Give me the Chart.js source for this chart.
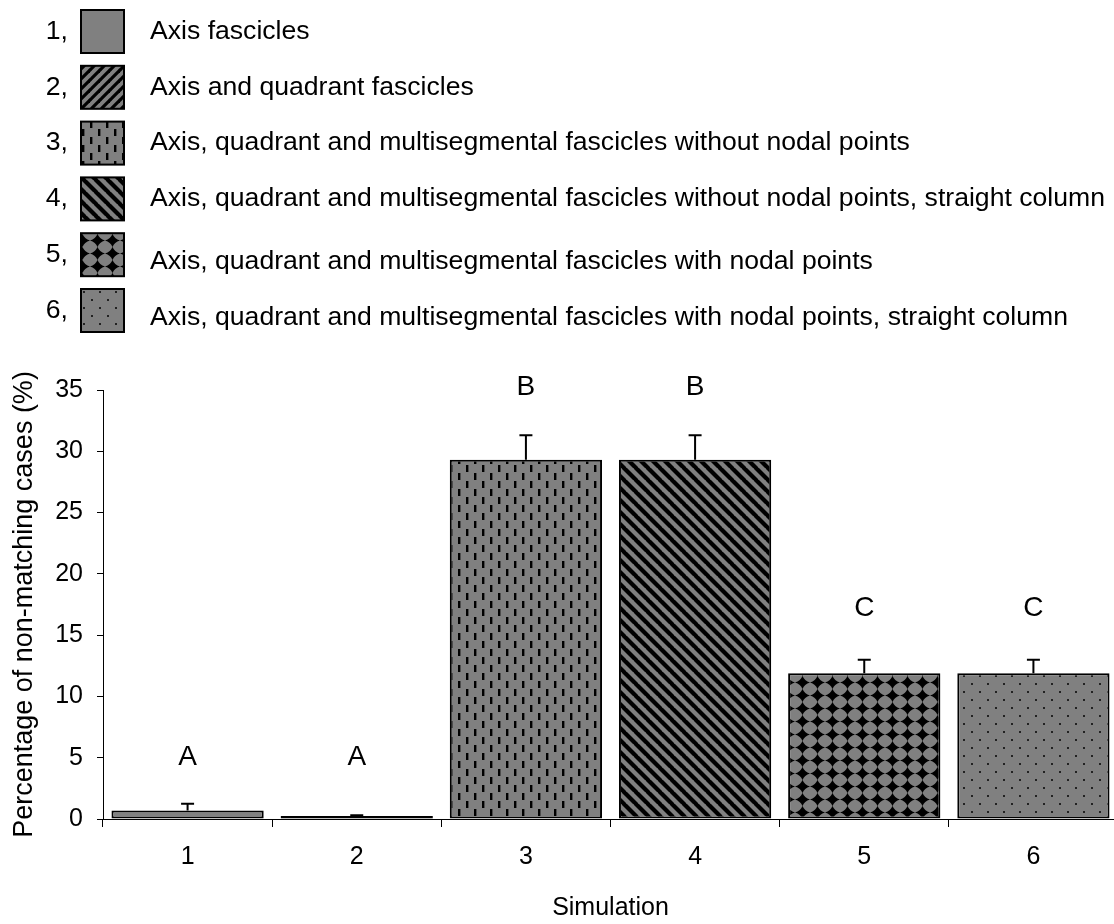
<!DOCTYPE html>
<html><head><meta charset="utf-8">
<script src="https://cdn.jsdelivr.net/npm/chart.js@4/dist/chart.umd.min.js"></script>
<style>html,body{margin:0;padding:0;overflow:hidden;background:#fff}
#wrap{width:1118px;height:924px}</style></head>
<body><div id="wrap"><canvas id="c" width="1118" height="924" style="width:1118px;height:924px"></canvas></div>
<script>
// ---- data ----
const categories = ['1', '2', '3', '4', '5', '6'];
const values = [0.7, 0.25, 29.3, 29.3, 11.9, 11.9];
const errors = [0.55, 0.05, 2.0, 2.0, 1.1, 1.1];
const groupLetters = ['A', 'A', 'B', 'B', 'C', 'C'];
const letterLevels = [5, 5, 35.2, 35.2, 17.2, 17.2];
const yTicks = [0, 5, 10, 15, 20, 25, 30, 35];
const legendNumbers = ['1,', '2,', '3,', '4,', '5,', '6,'];
const legendLabels = [
  'Axis fascicles',
  'Axis and quadrant fascicles',
  'Axis, quadrant and multisegmental fascicles without nodal points',
  'Axis, quadrant and multisegmental fascicles without nodal points, straight column',
  'Axis, quadrant and multisegmental fascicles with nodal points',
  'Axis, quadrant and multisegmental fascicles with nodal points, straight column'
];
const patternKinds = ['solid', 'fwd', 'dash', 'back', 'diamond', 'dots'];

// ---- patterns ----
const GRAY = '#808080';
function makePattern(kind) {
  if (kind === 'solid') return GRAY;
  const t = document.createElement('canvas');
  let w = 16, h = 16;
  if (kind === 'fwd') { w = h = 10; }
  if (kind === 'back') { w = h = 12; }
  if (kind === 'diamond') { w = 15; h = 13; }
  t.width = w; t.height = h;
  const g = t.getContext('2d');
  g.fillStyle = GRAY; g.fillRect(0, 0, w, h);
  g.fillStyle = '#000'; g.strokeStyle = '#000';
  if (kind === 'fwd') {
    g.lineWidth = 3.2;
    for (const k of [0, w, 2 * w]) { g.beginPath(); g.moveTo(k + 1, -1); g.lineTo(k - w - 1, w + 1); g.stroke(); }
  } else if (kind === 'back') {
    g.lineWidth = 4.2;
    for (const k of [-w, 0, w]) { g.beginPath(); g.moveTo(k - 1, -1); g.lineTo(k + w + 1, w + 1); g.stroke(); }
  } else if (kind === 'dash') {
    g.fillRect(2, 1, 2.4, 7);
    g.fillRect(10, 9, 2.4, 7);
  } else if (kind === 'diamond') {
    const cx = w / 2, cy = h / 2, rx = 7.6, ry = 6.6, k = 1.8;
    g.beginPath();
    g.moveTo(cx, cy - ry);
    g.quadraticCurveTo(cx + k, cy - k, cx + rx, cy);
    g.quadraticCurveTo(cx + k, cy + k, cx, cy + ry);
    g.quadraticCurveTo(cx - k, cy + k, cx - rx, cy);
    g.quadraticCurveTo(cx - k, cy - k, cx, cy - ry);
    g.fill();
  } else if (kind === 'dots') {
    g.fillStyle = '#222';
    g.fillRect(3, 3, 2, 2);
    g.fillRect(11, 11, 2, 2);
  }
  return g.createPattern(t, 'repeat');
}
const ctx = document.getElementById('c').getContext('2d');
const fills = patternKinds.map(makePattern);

const FONT = "'Liberation Sans', Arial, sans-serif";

// ---- plugins ----
const errorBars = {
  id: 'errorBars',
  afterDatasetsDraw(chart) {
    const c = chart.ctx, y = chart.scales.y;
    const meta = chart.getDatasetMeta(0);
    c.save();
    c.strokeStyle = '#000'; c.lineWidth = 2;
    meta.data.forEach((bar, i) => {
      const top = y.getPixelForValue(values[i] + errors[i]);
      const base = y.getPixelForValue(values[i]);
      c.beginPath();
      c.moveTo(bar.x, base); c.lineTo(bar.x, top);
      c.moveTo(bar.x - 6.5, top); c.lineTo(bar.x + 6.5, top);
      c.stroke();
    });
    c.fillStyle = '#000';
    c.font = '28px ' + FONT;
    c.textAlign = 'center'; c.textBaseline = 'middle';
    meta.data.forEach((bar, i) => {
      c.fillText(groupLetters[i], bar.x, y.getPixelForValue(letterLevels[i]));
    });
    c.restore();
  }
};
const legendBox = {
  id: 'legendBox',
  afterDraw(chart) {
    const c = chart.ctx;
    c.save();
    c.font = '26.6px ' + FONT;
    c.fillStyle = '#000';
    c.textBaseline = 'middle';
    for (let i = 0; i < legendLabels.length; i++) {
      const top = 10 + i * 55.8;
      const cy = top + 21.5;
      c.textAlign = 'right';
      c.fillStyle = '#000';
      c.fillText(legendNumbers[i], 68, cy);
      c.fillStyle = fills[i];
      c.fillRect(81, top, 43, 43);
      c.strokeStyle = '#000'; c.lineWidth = 2;
      c.strokeRect(81, top, 43, 43);
      c.textAlign = 'left';
      c.fillStyle = '#000';
      c.fillText(legendLabels[i], 150, cy + (i >= 4 ? 7 : 0));
    }
    c.restore();
  }
};

new Chart(ctx, {
  type: 'bar',
  data: {
    labels: categories,
    datasets: [{
      data: values,
      backgroundColor: fills,
      borderColor: '#000',
      borderWidth: 2,
      borderSkipped: false,
      categoryPercentage: 1,
      barPercentage: 0.9
    }]
  },
  options: {
    responsive: false,
    animation: false,
    events: [],
    layout: { padding: { top: 390, left: 0, right: 0, bottom: 0 } },
    plugins: { legend: { display: false }, tooltip: { enabled: false } },
    scales: {
      x: {
        afterFit(s) { s.height = 105; },
        grid: { drawOnChartArea: false, offset: true, tickLength: 8, color: '#000', lineWidth: 1 },
        border: { color: '#000', width: 1 },
        ticks: { color: '#000', font: { family: FONT, size: 25 }, padding: 15 },
        title: { display: true, text: 'Simulation', color: '#000', font: { family: FONT, size: 25 }, padding: { top: 0, bottom: 1 } }
      },
      y: {
        min: 0, max: 35,
        afterFit(s) { s.width = 103; },
        afterBuildTicks(s) { s.ticks = yTicks.map(v => ({ value: v })); },
        grid: { drawOnChartArea: false, tickLength: 6, color: '#000', lineWidth: 1 },
        border: { color: '#000', width: 1 },
        ticks: { color: '#000', font: { family: FONT, size: 25 }, padding: 14 },
        title: { display: true, text: 'Percentage of non-matching cases (%)', color: '#000', font: { family: FONT, size: 27 }, padding: { top: 8, bottom: 0 } }
      }
    }
  },
  plugins: [errorBars, legendBox]
});
</script>
</body></html>
